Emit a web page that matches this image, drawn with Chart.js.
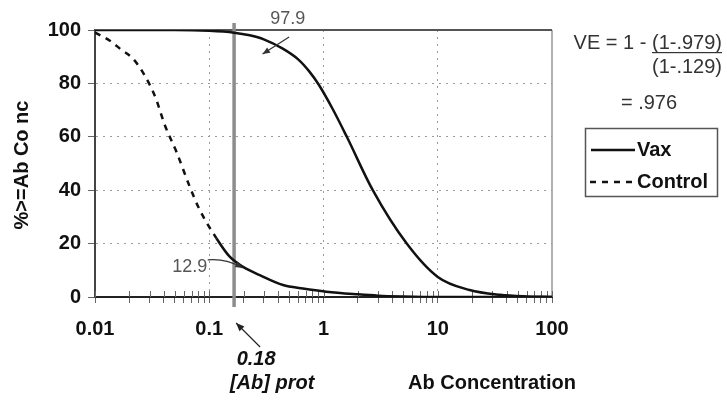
<!DOCTYPE html>
<html>
<head>
<meta charset="utf-8">
<script src="https://cdn.jsdelivr.net/npm/chart.js@4/dist/chart.umd.min.js"></script>
<style>
  html, body { margin: 0; padding: 0; background: #fff; }
  #chart { display: block; }
</style>
</head>
<body>
<canvas id="chart" width="727" height="400"></canvas>
<script>
// reverse cumulative distribution: % of subjects with Ab >= concentration
const vaxConc = [0.01, 0.05, 0.1, 0.165, 0.226, 0.3, 0.44, 0.6, 0.75, 0.91, 1.2, 1.6, 2.7, 5.35, 10, 19, 35, 60, 100];
const vaxPct = [100, 100, 99.7, 99, 98, 96.5, 93, 89, 84.5, 79.5, 70.5, 60, 40, 20, 7.5, 2.6, 0.8, 0.2, 0];

const controlConc = [0.01, 0.0135, 0.0171, 0.0209, 0.0247, 0.0302, 0.0345, 0.0377, 0.0408, 0.0516, 0.0675, 0.0826,
    0.1156, 0.151, 0.198, 0.277, 0.442, 0.66, 1.06, 2, 3, 5, 10, 100];
const controlPct = [99, 96, 92.5, 89.8, 85.9, 79.4, 73.8, 68.8, 64.4, 54.4, 41.3, 32.6,
    22, 15.1, 11.3, 8.2, 4.5, 3.2, 2, 1, 0.5, 0.2, 0, 0];

const xMajorTicks = [0.01, 0.1, 1, 10, 100];
const yTicks = [0, 20, 40, 60, 80, 100];

const abProt = 0.165;        // where the threshold line sits on the axis
const abProtLabel = '0.18';
const vaxAtProt = '97.9';
const controlAtProt = '12.9';

// minor tick marks on the log axis
const xTicks = [];
xMajorTicks.slice(0, -1).forEach(d => {
    for (let k = 1; k < 10; k++) xTicks.push(+(d * k).toPrecision(3));
});
xTicks.push(100);

const FONT = '"Liberation Sans", Arial, sans-serif';
Chart.defaults.font.family = FONT;

function arrow(ctx, x1, y1, x2, y2, cx, cy, color, head) {
    ctx.save();
    ctx.strokeStyle = color;
    ctx.fillStyle = color;
    ctx.lineWidth = 1.2;
    ctx.beginPath();
    ctx.moveTo(x1, y1);
    if (cx != null) ctx.quadraticCurveTo(cx, cy, x2, y2);
    else ctx.lineTo(x2, y2);
    ctx.stroke();
    const fx = cx != null ? cx : x1, fy = cy != null ? cy : y1;
    const ang = Math.atan2(y2 - fy, x2 - fx);
    ctx.beginPath();
    ctx.moveTo(x2, y2);
    ctx.lineTo(x2 - head * Math.cos(ang - 0.4), y2 - head * Math.sin(ang - 0.4));
    ctx.lineTo(x2 - head * Math.cos(ang + 0.4), y2 - head * Math.sin(ang + 0.4));
    ctx.closePath();
    ctx.fill();
    ctx.restore();
}

const decor = {
    id: 'decor',
    beforeDatasetsDraw(chart) {
        const { ctx, chartArea: a, scales: { x } } = chart;
        ctx.save();
        // frame
        ctx.strokeStyle = '#999';
        ctx.lineWidth = 1.5;
        ctx.beginPath();
        ctx.moveTo(a.right, a.top);
        ctx.lineTo(a.right, a.bottom);
        ctx.stroke();
        ctx.strokeStyle = '#555';
        ctx.lineWidth = 2;
        ctx.beginPath();
        ctx.moveTo(a.left, a.top);
        ctx.lineTo(a.right, a.top);
        ctx.stroke();
        // minor ticks crossing the x axis
        ctx.strokeStyle = '#666';
        ctx.lineWidth = 1;
        xTicks.forEach(v => {
            const px = Math.round(x.getPixelForValue(v)) + 0.5;
            ctx.beginPath();
            ctx.moveTo(px, a.bottom - 6);
            ctx.lineTo(px, a.bottom);
            ctx.stroke();
        });
        // threshold line
        const px = x.getPixelForValue(abProt);
        ctx.strokeStyle = '#8c8c8c';
        ctx.lineWidth = 3.5;
        ctx.beginPath();
        ctx.moveTo(px, a.top - 7);
        ctx.lineTo(px, a.bottom + 10);
        ctx.stroke();
        ctx.restore();
    },
    afterDraw(chart) {
        const { ctx, chartArea: a, scales: { x, y } } = chart;
        const px = x.getPixelForValue(abProt);
        ctx.save();
        ctx.textBaseline = 'middle';

        // axis titles
        ctx.fillStyle = '#111';
        ctx.font = 'bold 20px ' + FONT;
        ctx.textAlign = 'center';
        ctx.fillText('Ab Concentration', 492, 383);
        ctx.save();
        ctx.translate(22, 165);
        ctx.rotate(-Math.PI / 2);
        ctx.fillText('%>=Ab Co nc', 0, 0);
        ctx.restore();

        // threshold label
        ctx.font = 'italic bold 20px ' + FONT;
        ctx.fillText(abProtLabel, px + 22, 359);
        ctx.fillText('[Ab] prot', px + 38, 383);
        arrow(ctx, px + 26, a.bottom + 50, px + 2, a.bottom + 26, null, null, '#222', 9);

        // values at the threshold
        ctx.font = '18px ' + FONT;
        ctx.fillStyle = '#555';
        ctx.fillText(vaxAtProt, x.getPixelForValue(0.486), y.getPixelForValue(104));
        ctx.fillText(controlAtProt, x.getPixelForValue(0.0675), y.getPixelForValue(11.2));
        arrow(ctx, x.getPixelForValue(0.5), y.getPixelForValue(97.4),
            x.getPixelForValue(0.293), y.getPixelForValue(91), null, null, '#333', 8);
        arrow(ctx, x.getPixelForValue(0.097), y.getPixelForValue(13.9),
            x.getPixelForValue(0.196), y.getPixelForValue(10.9),
            x.getPixelForValue(0.14), y.getPixelForValue(14.5), '#333', 8);

        // VE formula
        ctx.fillStyle = '#333';
        ctx.font = '20px ' + FONT;
        ctx.textAlign = 'right';
        const num = '(1-.979)';
        const wNum = ctx.measureText(num).width;
        ctx.fillText(num, 722, 43);
        ctx.fillText('VE = 1 - ', 722 - wNum, 43);
        ctx.fillRect(722 - wNum, 52, wNum, 1.2);
        ctx.fillText('(1-.129)', 722, 67);
        ctx.textAlign = 'center';
        ctx.fillText('= .976', 649, 103);

        // legend
        ctx.strokeStyle = '#555';
        ctx.lineWidth = 1.5;
        ctx.strokeRect(585.5, 128.5, 132, 68);
        ctx.strokeStyle = '#111';
        ctx.lineWidth = 2.5;
        ctx.beginPath();
        ctx.moveTo(591, 150);
        ctx.lineTo(635, 150);
        ctx.stroke();
        ctx.setLineDash([6, 6]);
        ctx.beginPath();
        ctx.moveTo(590, 182);
        ctx.lineTo(635, 182);
        ctx.stroke();
        ctx.setLineDash([]);
        ctx.fillStyle = '#111';
        ctx.font = 'bold 20px ' + FONT;
        ctx.textAlign = 'left';
        chart.data.datasets.forEach((ds, i) => ctx.fillText(ds.label, 637, i ? 182 : 150));
        ctx.restore();
    }
};

new Chart(document.getElementById('chart'), {
    type: 'line',
    data: {
        datasets: [{
            label: 'Vax',
            data: vaxConc.map((c, i) => ({ x: c, y: vaxPct[i] })),
            borderColor: '#111',
            borderWidth: 2.5,
            pointRadius: 0,
            cubicInterpolationMode: 'monotone'
        }, {
            label: 'Control',
            data: controlConc.map((c, i) => ({ x: c, y: controlPct[i] })),
            borderColor: '#111',
            borderWidth: 2.5,
            borderDash: [6, 6],
            pointRadius: 0,
            cubicInterpolationMode: 'monotone',
            segment: {
                borderDash: ctx => ctx.p0.parsed.x >= 0.11 ? [] : [6, 6]
            }
        }]
    },
    options: {
        responsive: false,
        animation: false,
        layout: { padding: { top: 30, right: 175, left: 0, bottom: 0 } },
        plugins: { legend: { display: false }, tooltip: { enabled: false } },
        scales: {
            x: {
                type: 'logarithmic',
                min: 0.01,
                max: 100,
                afterBuildTicks: s => { s.ticks = xTicks.map(v => ({ value: v })); },
                afterFit: s => { s.height = 103; },
                ticks: {
                    autoSkip: false,
                    maxRotation: 0,
                    padding: 14,
                    color: '#111',
                    font: { size: 20, weight: 'bold' },
                    callback: v => xMajorTicks.includes(v) ? String(v) : ''
                },
                grid: {
                    color: c => [0.1, 1, 10].includes(c.tick && c.tick.value) ? '#9a9a9a' : 'rgba(0,0,0,0)',
                    lineWidth: 1,
                    tickLength: 6,
                    tickColor: '#666'
                },
                border: { color: '#222', width: 2, dash: [2, 5] }
            },
            y: {
                min: 0,
                max: 100,
                afterBuildTicks: s => { s.ticks = yTicks.map(v => ({ value: v })); },
                afterFit: s => { s.width = 95; },
                ticks: {
                    padding: 7,
                    color: '#111',
                    font: { size: 20, weight: 'bold' }
                },
                grid: {
                    color: c => c.tick && c.tick.value > 0 && c.tick.value < 100 ? '#9a9a9a' : 'rgba(0,0,0,0)',
                    lineWidth: 1,
                    tickLength: 7,
                    tickColor: '#666'
                },
                border: { color: '#444', width: 2, dash: [2, 5] }
            }
        }
    },
    plugins: [decor]
});
</script>
</body>
</html>
